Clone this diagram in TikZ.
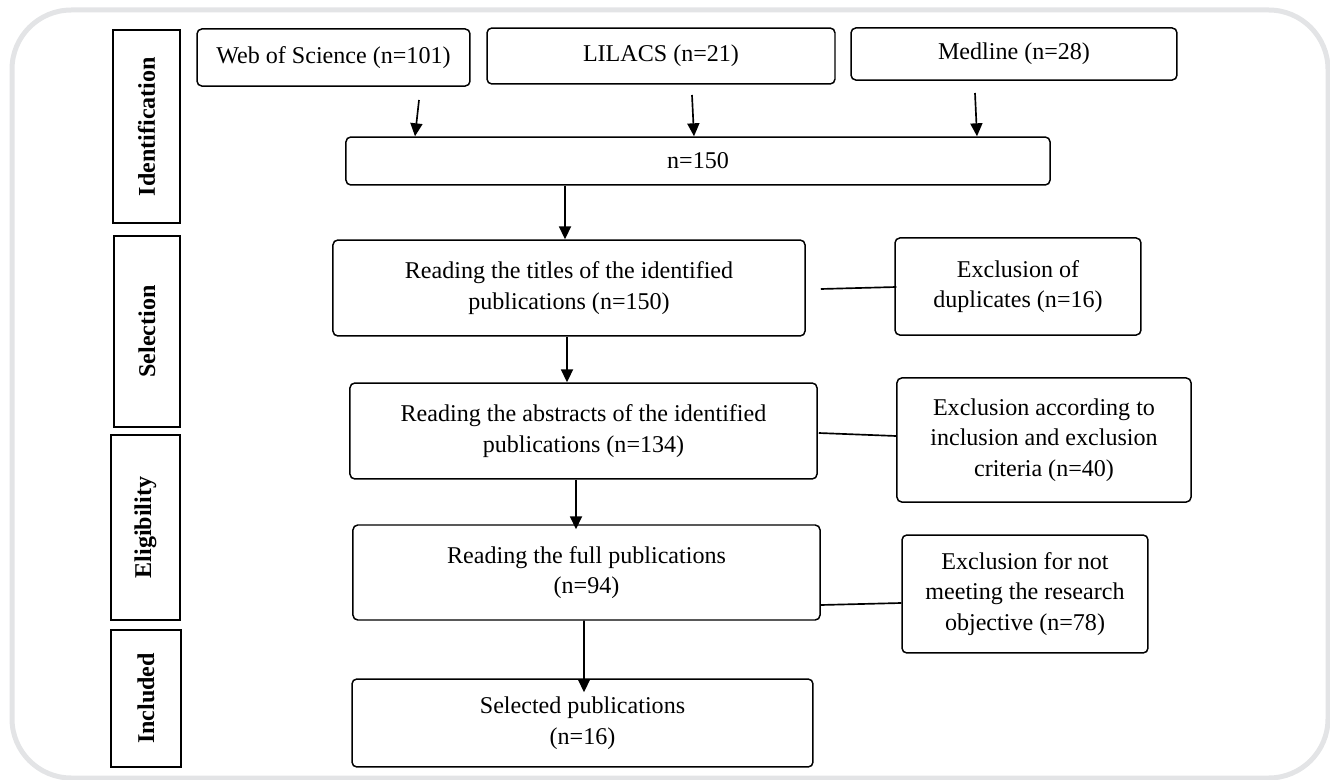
\documentclass[tikz,border=0pt]{standalone}
\usepackage{fontspec}
\setmainfont{Liberation Serif}
\usetikzlibrary{arrows.meta,calc}
\definecolor{framegray}{RGB}{227,228,230}
\tikzset{
  box/.style={draw=black,line width=.8pt,rounded corners=2.6pt,align=center,
              font=\fontsize{13}{16.5}\selectfont,inner sep=2pt},
  stage/.style={draw=black,line width=.9pt,rotate=90,inner sep=2pt,
                font=\fontsize{13}{15}\selectfont\bfseries},
  ar/.style ={-{Triangle[length=7pt,width=6.5pt]},line width=.9pt},
  ln/.style ={line width=.9pt},
}

\begin{document}
\begin{tikzpicture}[x=0.54pt,y=-0.54pt]
  \useasboundingbox (0,0) rectangle (1330,780);
  \draw[framegray,line width=2.7pt,rounded corners=32pt] (12,10) rectangle (1328,778);

  % stages on the left
  \node[stage,minimum width=104.2pt,minimum height=36.2pt] (idl) at (146.5,126.5) {Identification};
  \node[stage,minimum width=103.1pt,minimum height=35.6pt] (sel) at (147,331.5) {Selection};
  \node[stage,minimum width=99.9pt,minimum height=37.3pt]  (elg) at (145.5,527.5) {Eligibility};
  \node[stage,minimum width=74pt,minimum height=37.8pt]    (inc) at (146,698.5) {Included};

  % databases
  \node[box,minimum width=147.4pt,minimum height=30.8pt] (wos) at (333.5,57.5) {Web of Science (n=101)};
  \node[box,minimum width=187.9pt,minimum height=30.2pt] (lil) at (661,56) {LILACS (n=21)};
  \node[box,minimum width=176pt,minimum height=28.1pt]   (med) at (1014,54) {Medline (n=28)};
  \node[box,minimum width=380.2pt,minimum height=25.9pt] (all) at (698,161) {n=150};

  % main flow
  \node[box,minimum width=254.9pt,minimum height=51.8pt] (tit) at (569,288)
       {Reading the titles of the identified\\publications (n=150)};
  \node[box,minimum width=252.2pt,minimum height=51.8pt] (abs) at (583.5,431)
       {Reading the abstracts of the identified\\publications (n=134)};
  \node[box,minimum width=252.2pt,minimum height=51.3pt] (ful) at (586.5,572.5)
       {Reading the full publications\\(n=94)};
  \node[box,minimum width=248.9pt,minimum height=47.5pt] (chosen) at (582.5,723)
       {Selected publications\\(n=16)};

  % exclusions
  \node[box,minimum width=132.8pt,minimum height=52.4pt] (dup) at (1018,286.5)
       {Exclusion of\\duplicates (n=16)};
  \node[box,minimum width=158.8pt,minimum height=67pt]   (crit) at (1044,440)
       {Exclusion according to\\inclusion and exclusion\\criteria (n=40)};
  \node[box,minimum width=132.8pt,minimum height=63.7pt] (obj) at (1025,594)
       {Exclusion for not\\meeting the research\\objective (n=78)};

  \coordinate (wosA) at (419,100);
  \coordinate (lilA) at (692,95);
  \coordinate (medA) at (975,93);
  \draw[ar] (wosA) -- ($(all.north)+(-283,0)$);
  \draw[ar] (lilA) -- ($(all.north)+(-4,0)$);
  \draw[ar] (medA) -- ($(all.north)+(279,0)$);

  \draw[ar] ($(all.south)+(-133,0)$) -- ($(tit.north)+(-4,0)$);
  \draw[ar] ($(tit.south)+(-2,0)$) -- ($(abs.north)+(-16.5,0)$);
  \draw[ar] ($(abs.south)+(-7.5,0)$) -- ($(ful.north)+(-10.5,5)$);
  \draw[ar] ($(ful.south)+(-2.5,0)$) -- ($(chosen.north)+(1.5,14)$);

  \draw[ln] ($(tit.east)+(15,1)$) -- ($(dup.west)+(2,0.5)$);
  \draw[ln] ($(abs.east)+(1,2)$) -- ($(crit.west)+(0,-4)$);
  \draw[ln] ($(ful.east)+(0,32.5)$) -- ($(obj.west)+(0,9)$);
\end{tikzpicture}
\end{document}
